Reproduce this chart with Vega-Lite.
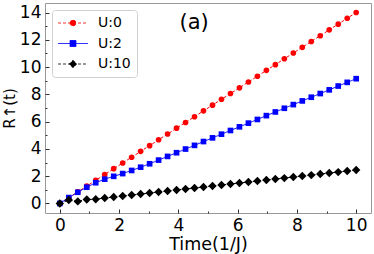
{
  "$schema": "https://vega.github.io/schema/vega-lite/v6.json",
  "autosize": {"type": "none"},
  "padding": {"left": 45, "top": 3, "right": 3, "bottom": 41},
  "width": 326,
  "height": 210,
  "background": "white",
  "title": {"text": "(a)", "anchor": "start", "orient": "none", "dx": 134.5, "dy": 26, "align": "left", "baseline": "alphabetic", "fontSize": 21, "font": "DejaVu Sans", "fontWeight": "normal", "color": "black"},
  "config": {
    "view": {"stroke": "#999", "strokeWidth": 1},
    "font": "DejaVu Sans",
    "axis": {"grid": false, "domain": false, "labelFont": "DejaVu Sans", "titleFont": "DejaVu Sans", "labelColor": "black", "titleColor": "black", "titleFontWeight": "normal", "tickColor": "#333", "labelOverlap": false}
  },
  "data": {"values": [
    {"U":"U:0","t":0,"R":0},{"U":"U:0","t":0.303,"R":0.42},{"U":"U:0","t":0.606,"R":0.85},{"U":"U:0","t":0.909,"R":1.27},{"U":"U:0","t":1.212,"R":1.70},{"U":"U:0","t":1.515,"R":2.12},{"U":"U:0","t":1.818,"R":2.55},{"U":"U:0","t":2.121,"R":2.97},{"U":"U:0","t":2.424,"R":3.39},{"U":"U:0","t":2.727,"R":3.82},{"U":"U:0","t":3.030,"R":4.24},{"U":"U:0","t":3.333,"R":4.67},{"U":"U:0","t":3.636,"R":5.09},{"U":"U:0","t":3.939,"R":5.52},{"U":"U:0","t":4.242,"R":5.94},{"U":"U:0","t":4.545,"R":6.36},{"U":"U:0","t":4.848,"R":6.79},{"U":"U:0","t":5.152,"R":7.21},{"U":"U:0","t":5.455,"R":7.64},{"U":"U:0","t":5.758,"R":8.06},{"U":"U:0","t":6.061,"R":8.48},{"U":"U:0","t":6.364,"R":8.91},{"U":"U:0","t":6.667,"R":9.33},{"U":"U:0","t":6.970,"R":9.76},{"U":"U:0","t":7.273,"R":10.18},{"U":"U:0","t":7.576,"R":10.61},{"U":"U:0","t":7.879,"R":11.03},{"U":"U:0","t":8.182,"R":11.45},{"U":"U:0","t":8.485,"R":11.88},{"U":"U:0","t":8.788,"R":12.30},{"U":"U:0","t":9.091,"R":12.73},{"U":"U:0","t":9.394,"R":13.15},{"U":"U:0","t":9.697,"R":13.58},{"U":"U:0","t":10.0,"R":14.0},
    {"U":"U:2","t":0,"R":0},{"U":"U:2","t":0.303,"R":0.43},{"U":"U:2","t":0.606,"R":0.82},{"U":"U:2","t":0.909,"R":1.19},{"U":"U:2","t":1.212,"R":1.52},{"U":"U:2","t":1.515,"R":1.78},{"U":"U:2","t":1.818,"R":1.99},{"U":"U:2","t":2.121,"R":2.19},{"U":"U:2","t":2.424,"R":2.42},{"U":"U:2","t":2.727,"R":2.66},{"U":"U:2","t":3.030,"R":2.91},{"U":"U:2","t":3.333,"R":3.18},{"U":"U:2","t":3.636,"R":3.45},{"U":"U:2","t":3.939,"R":3.72},{"U":"U:2","t":4.242,"R":3.99},{"U":"U:2","t":4.545,"R":4.26},{"U":"U:2","t":4.848,"R":4.54},{"U":"U:2","t":5.152,"R":4.81},{"U":"U:2","t":5.455,"R":5.08},{"U":"U:2","t":5.758,"R":5.35},{"U":"U:2","t":6.061,"R":5.62},{"U":"U:2","t":6.364,"R":5.89},{"U":"U:2","t":6.667,"R":6.16},{"U":"U:2","t":6.970,"R":6.44},{"U":"U:2","t":7.273,"R":6.71},{"U":"U:2","t":7.576,"R":6.98},{"U":"U:2","t":7.879,"R":7.25},{"U":"U:2","t":8.182,"R":7.52},{"U":"U:2","t":8.485,"R":7.79},{"U":"U:2","t":8.788,"R":8.06},{"U":"U:2","t":9.091,"R":8.33},{"U":"U:2","t":9.394,"R":8.61},{"U":"U:2","t":9.697,"R":8.88},{"U":"U:2","t":10.0,"R":9.15},
    {"U":"U:10","t":0,"R":0},{"U":"U:10","t":0.303,"R":0.25},{"U":"U:10","t":0.606,"R":0.15},{"U":"U:10","t":0.909,"R":0.29},{"U":"U:10","t":1.212,"R":0.31},{"U":"U:10","t":1.515,"R":0.40},{"U":"U:10","t":1.818,"R":0.47},{"U":"U:10","t":2.121,"R":0.55},{"U":"U:10","t":2.424,"R":0.62},{"U":"U:10","t":2.727,"R":0.69},{"U":"U:10","t":3.030,"R":0.77},{"U":"U:10","t":3.333,"R":0.84},{"U":"U:10","t":3.636,"R":0.91},{"U":"U:10","t":3.939,"R":0.99},{"U":"U:10","t":4.242,"R":1.06},{"U":"U:10","t":4.545,"R":1.13},{"U":"U:10","t":4.848,"R":1.21},{"U":"U:10","t":5.152,"R":1.28},{"U":"U:10","t":5.455,"R":1.35},{"U":"U:10","t":5.758,"R":1.43},{"U":"U:10","t":6.061,"R":1.50},{"U":"U:10","t":6.364,"R":1.57},{"U":"U:10","t":6.667,"R":1.65},{"U":"U:10","t":6.970,"R":1.72},{"U":"U:10","t":7.273,"R":1.79},{"U":"U:10","t":7.576,"R":1.86},{"U":"U:10","t":7.879,"R":1.94},{"U":"U:10","t":8.182,"R":2.01},{"U":"U:10","t":8.485,"R":2.08},{"U":"U:10","t":8.788,"R":2.16},{"U":"U:10","t":9.091,"R":2.23},{"U":"U:10","t":9.394,"R":2.30},{"U":"U:10","t":9.697,"R":2.38},{"U":"U:10","t":10.0,"R":2.45}
  ]},
  "encoding": {
    "x": {"field": "t", "type": "quantitative", "scale": {"domain": [-0.5, 10.5], "nice": false, "zero": false},
      "axis": {"title": "Time(1/J)", "titleFontSize": 17.5, "titlePadding": 0, "values": [0,1,2,3,4,5,6,7,8,9,10], "labelExpr": "datum.value % 2 === 0 ? datum.label : ''", "labelFontSize": 17,
        "tickSize": {"condition": {"test": "datum.value % 2 === 0", "value": -4}, "value": -2}, "labelPadding": 8}},
    "y": {"field": "R", "type": "quantitative", "scale": {"domain": [-0.7, 14.7], "nice": false, "zero": false},
      "axis": {"title": "R↑(t)", "titleFontSize": 15, "titlePadding": 2, "values": [0,1,2,3,4,5,6,7,8,9,10,11,12,13,14], "labelExpr": "datum.value % 2 === 0 ? datum.label : ''", "labelFontSize": 17,
        "tickSize": {"condition": {"test": "datum.value % 2 === 0", "value": -4}, "value": -2}, "labelPadding": 8}},
    "color": {"field": "U", "type": "nominal", "scale": {"domain": ["U:0","U:2","U:10"], "range": ["#ff0000","#0000ff","#000000"]},
      "legend": {"title": null, "orient": "top-left", "offset": 7, "padding": 6, "fillColor": "white", "strokeColor": "#d0d0d0", "cornerRadius": 3,
        "labelFont": "DejaVu Sans", "labelFontSize": 14, "labelColor": "black", "labelExpr": "datum.label + '\u00a0\u00a0'", "symbolSize": 36, "symbolOffset": 8, "labelOffset": 18, "rowPadding": 6.5,
        "encode": {"symbols": {"update": {
          "shape": {"signal": "datum.value === 'U:0' ? 'M-5,0H5M-1,0A1,1 0 1,0 1,0A1,1 0 1,0 -1,0Z' : datum.value === 'U:2' ? 'M-5,0H5M-1,-1H1V1H-1Z' : 'M-5,0H5M0,-1.25L1.25,0L0,1.25L-1.25,0Z'"},
          "strokeDash": {"signal": "datum.value === 'U:2' ? [1,0] : [2,1.5]"},
          "fill": {"signal": "datum.value === 'U:0' ? '#ff0000' : datum.value === 'U:2' ? '#0000ff' : '#000000'"},
          "stroke": {"signal": "datum.value === 'U:0' ? '#ff0000' : datum.value === 'U:2' ? '#0000ff' : '#000000'"},
          "size": {"value": 36},
          "strokeWidth": {"value": 1},
          "opacity": {"value": 1},
          "fillOpacity": {"value": 1},
          "strokeOpacity": {"value": 0.8}
        }}}}}
  },
  "layer": [
    {"mark": {"type": "line", "strokeWidth": 1},
     "encoding": {"strokeDash": {"field": "U", "type": "nominal", "scale": {"domain": ["U:0","U:2","U:10"], "range": [[3,2],[1,0],[3,2]]}, "legend": null}}},
    {"transform": [{"filter": "datum.U === 'U:0'"}],
     "mark": {"type": "point", "filled": true, "opacity": 1, "shape": "circle", "size": 32}},
    {"transform": [{"filter": "datum.U === 'U:2'"}],
     "mark": {"type": "point", "filled": true, "opacity": 1, "shape": "square", "size": 32}},
    {"transform": [{"filter": "datum.U === 'U:10'"}],
     "mark": {"type": "point", "filled": true, "opacity": 1, "shape": "diamond", "size": 70}}
  ]
}
